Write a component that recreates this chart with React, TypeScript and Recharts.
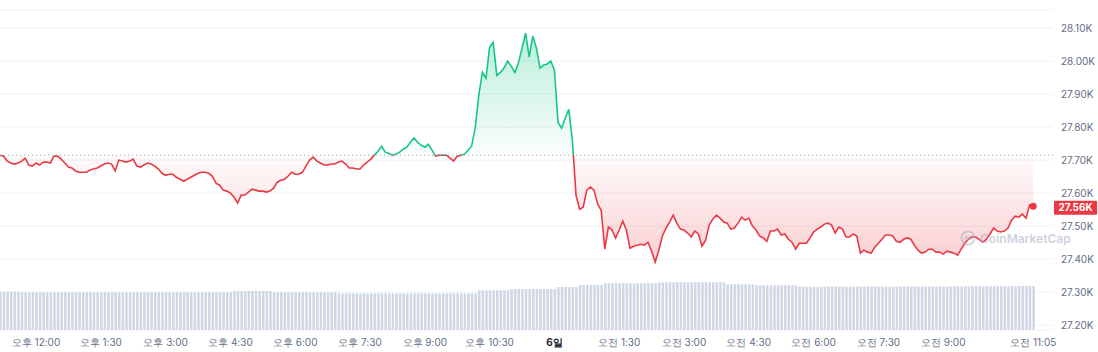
import React from 'react';
import {
  ComposedChart,
  Area,
  Bar,
  XAxis,
  YAxis,
  CartesianGrid,
  ReferenceLine,
  ReferenceDot,
} from 'recharts';

// 5-minute prices, 11:10 -> 11:05 next day (one row per hour)
const prices = [
  27715, 27712, 27697, 27691, 27688, 27691, 27697, 27706, 27685, 27682, 27691, 27685,
  27694, 27694, 27691, 27712, 27712, 27703, 27691, 27679, 27676, 27667, 27663, 27663,
  27663, 27670, 27673, 27676, 27682, 27688, 27691, 27688, 27667, 27700, 27697, 27694,
  27697, 27703, 27682, 27679, 27685, 27691, 27688, 27682, 27673, 27660, 27654, 27657,
  27657, 27648, 27642, 27636, 27642, 27648, 27654, 27660, 27663, 27663, 27660, 27651,
  27630, 27624, 27609, 27606, 27600, 27588, 27570, 27594, 27594, 27603, 27612, 27609,
  27606, 27606, 27603, 27606, 27615, 27633, 27639, 27642, 27651, 27663, 27657, 27657,
  27663, 27682, 27700, 27709, 27697, 27691, 27685, 27685, 27688, 27688, 27694, 27697,
  27688, 27676, 27676, 27673, 27673, 27685, 27694, 27703, 27715, 27727, 27742, 27724,
  27721, 27715, 27718, 27724, 27733, 27739, 27754, 27767, 27754, 27745, 27739, 27748,
  27730, 27712, 27715, 27715, 27715, 27706, 27697, 27712, 27715, 27718, 27730, 27742,
  27797, 27897, 27966, 27948, 28042, 28057, 27957, 27966, 27979, 28000, 27985, 27966,
  27994, 28039, 28085, 28012, 28076, 28039, 27979, 27988, 27991, 28000, 27973, 27815,
  27797, 27827, 27854, 27760, 27594, 27551, 27557, 27609, 27618, 27609, 27567, 27548,
  27430, 27497, 27488, 27464, 27488, 27515, 27488, 27433, 27439, 27442, 27445, 27442,
  27451, 27424, 27391, 27427, 27470, 27494, 27512, 27533, 27509, 27491, 27488, 27479,
  27467, 27485, 27476, 27439, 27457, 27503, 27521, 27533, 27524, 27512, 27509, 27491,
  27494, 27509, 27527, 27518, 27524, 27500, 27488, 27470, 27464, 27454, 27485, 27485,
  27491, 27473, 27476, 27460, 27451, 27430, 27448, 27448, 27448, 27464, 27482, 27491,
  27497, 27506, 27509, 27503, 27479, 27497, 27491, 27467, 27467, 27476, 27470, 27418,
  27427, 27421, 27418, 27436, 27448, 27460, 27473, 27473, 27470, 27454, 27451, 27460,
  27464, 27460, 27442, 27427, 27418, 27421, 27430, 27430, 27421, 27421, 27415, 27424,
  27421, 27418, 27412, 27430, 27448, 27460, 27467, 27467, 27460, 27451, 27460, 27476,
  27494, 27485, 27482, 27485, 27494, 27518, 27530, 27527, 27536, 27524, 27564, 27560,
];

// 24h volume (B), same 5-minute steps
const volumes = [
  11.98, 11.97, 11.97, 11.96, 11.96, 11.95, 11.8, 11.79, 11.79, 11.78, 11.78, 11.79,
  11.79, 11.78, 11.78, 11.77, 11.78, 11.79, 11.78, 11.78, 11.77, 11.77, 11.78, 11.78,
  11.78, 11.79, 11.78, 11.78, 11.77, 11.78, 11.78, 11.79, 11.78, 11.77, 11.78, 11.78,
  11.78, 11.78, 11.77, 11.78, 11.78, 11.79, 11.78, 11.78, 11.78, 11.77, 11.78, 11.78,
  11.78, 11.79, 11.78, 11.78, 11.78, 11.77, 11.78, 11.78, 11.79, 11.78, 11.78, 11.78,
  11.78, 11.78, 11.77, 11.78, 11.78, 12.18, 12.19, 12.19, 12.2, 12.19, 12.19, 12.18,
  12.19, 12.19, 12.18, 12.18, 11.79, 11.78, 11.78, 11.78, 11.77, 11.78, 11.78, 11.78,
  11.78, 11.78, 11.77, 11.78, 11.78, 11.78, 11.78, 11.77, 11.78, 11.78, 11.48, 11.47,
  11.47, 11.47, 11.46, 11.47, 11.47, 11.48, 11.47, 11.47, 11.46, 11.47, 11.47, 11.47,
  11.47, 11.48, 11.47, 11.47, 11.47, 11.46, 11.47, 11.47, 11.47, 11.48, 11.47, 11.47,
  11.47, 11.47, 11.46, 11.47, 11.47, 11.47, 11.48, 11.47, 11.47, 11.46, 11.47, 11.47,
  11.47, 12.38, 12.4, 12.4, 12.41, 12.4, 12.4, 12.41, 12.4, 12.42, 12.79, 12.8,
  12.8, 12.81, 12.8, 12.8, 12.82, 12.81, 12.8, 12.8, 12.81, 12.8, 12.82, 13.44,
  13.44, 13.45, 13.44, 13.45, 13.44, 14.05, 14.06, 14.06, 14.07, 14.06, 14.06, 14.07,
  14.58, 14.59, 14.59, 14.6, 14.59, 14.58, 14.59, 14.6, 14.59, 14.59, 14.6, 14.59,
  14.59, 14.6, 14.59, 14.9, 14.9, 14.91, 14.9, 14.9, 14.92, 14.91, 14.9, 14.9,
  14.9, 14.91, 14.9, 14.9, 14.91, 14.9, 14.89, 14.9, 14.9, 14.89, 14.28, 14.28,
  14.29, 14.28, 14.28, 14.27, 14.28, 14.28, 13.97, 13.97, 13.98, 13.97, 13.96, 13.97,
  13.97, 13.98, 13.97, 13.97, 13.96, 13.97, 13.54, 13.53, 13.53, 13.54, 13.53, 13.53,
  13.54, 13.55, 13.54, 13.53, 13.54, 13.55, 13.56, 13.55, 13.54, 13.55, 13.56, 13.55,
  13.56, 13.57, 13.56, 13.55, 13.56, 13.57, 13.58, 13.57, 13.56, 13.57, 13.58, 13.57,
  13.58, 13.6, 13.59, 13.58, 13.6, 13.61, 13.6, 13.59, 13.6, 13.61, 13.62, 13.61,
  13.62, 13.64, 13.63, 13.65, 13.66, 13.65, 13.66, 13.68, 13.67, 13.68, 13.7, 13.69,
  13.7, 13.72, 13.71, 13.72, 13.73, 13.72, 13.73, 13.75, 13.74, 13.75, 13.76, 13.75,
];

const openPrice = 27715;

const xTickIndex = [10, 28, 46, 64, 82, 100, 118, 136, 154, 172, 190, 208, 226, 244, 262, 287];
const xTickLabels = [
  '오후 12:00', '오후 1:30', '오후 3:00', '오후 4:30', '오후 6:00', '오후 7:30', '오후 9:00',
  '오후 10:30', '6일', '오전 1:30', '오전 3:00', '오전 4:30', '오전 6:00', '오전 7:30',
  '오전 9:00', '오전 11:05',
];
const yTicks = [27200, 27300, 27400, 27500, 27600, 27700, 27800, 27900, 28000, 28100];

const GREEN = '#16c784';
const RED = '#ea3943';
const AXIS_TEXT = '#616e85';

const rows = prices.map((price, i) => ({ i, price, vol: volumes[i] }));
const lastIdx = prices.length - 1;
const lastPrice = prices[lastIdx];

// where the open price sits inside the line's bounding box
const hi = Math.max(...prices);
const lo = Math.min(...prices);
const split = (hi - openPrice) / (hi - lo);

const fmtK = (v: number) => `${(v / 1000).toFixed(2)}K`;

const XTick = ({ x, y, payload }: any) => {
  const label = xTickLabels[xTickIndex.indexOf(payload.value)];
  const isDay = label === '6일';
  return (
    <text
      x={x}
      y={y}
      dy={8}
      textAnchor="middle"
      fontSize={10}
      fontWeight={isDay ? 700 : 400}
      fill={isDay ? '#222531' : AXIS_TEXT}
    >
      {label}
    </text>
  );
};

const PriceTag = ({ viewBox }: any) => {
  if (!viewBox) return null;
  const x = viewBox.x + viewBox.width + 1;
  const y = viewBox.y + 1.5;
  return (
    <g>
      <rect x={x} y={y - 7} width={43} height={14} rx={1} fill={RED} />
      <text x={x + 21.5} y={y} dy={3.6} textAnchor="middle" fontSize={10} fontWeight={700} fill="#fff">
        {fmtK(lastPrice)}
      </text>
    </g>
  );
};

const Watermark = () => (
  <div
    style={{
      position: 'absolute',
      left: 960,
      top: 230,
      display: 'flex',
      alignItems: 'center',
      gap: 4,
      opacity: 0.55,
      pointerEvents: 'none',
      color: '#a6b0c3',
      fontSize: 12,
      fontWeight: 600,
      whiteSpace: 'nowrap',
    }}
  >
    <svg width={16} height={16} viewBox="0 0 18 18" style={{ flexShrink: 0 }}>
      <circle cx={9} cy={9} r={7.5} fill="none" stroke="#a6b0c3" strokeWidth={2} />
      <path d="M4.5 11.5 L7 7 L9 11 L11 7 L13.5 11.5" fill="none" stroke="#a6b0c3" strokeWidth={1.6} />
    </svg>
    <span>CoinMarketCap</span>
  </div>
);

export default function App() {
  return (
    <div style={{ position: 'absolute', left: 0, top: 0, width: 1098, height: 352, fontFamily: 'Inter, sans-serif' }}>
      <ComposedChart width={1098} height={352} data={rows} margin={{ top: 10, right: 0, bottom: 0, left: 0 }}>
        <defs>
          <linearGradient id="lineGrad" x1="0" y1="0" x2="0" y2="1">
            <stop offset={split} stopColor={GREEN} />
            <stop offset={split} stopColor={RED} />
          </linearGradient>
          <linearGradient id="fillGrad" x1="0" y1="0" x2="0" y2="1">
            <stop offset={0} stopColor={GREEN} stopOpacity={0.3} />
            <stop offset={split} stopColor={GREEN} stopOpacity={0.02} />
            <stop offset={split} stopColor={RED} stopOpacity={0.02} />
            <stop offset={1} stopColor={RED} stopOpacity={0.24} />
          </linearGradient>
        </defs>
        <CartesianGrid vertical={false} stroke="#eff2f5" yAxisId="price" />
        <XAxis
          dataKey="i"
          type="number"
          domain={[0, 292.5]}
          ticks={xTickIndex}
          tick={<XTick />}
          axisLine={false}
          tickLine={false}
          height={22}
          interval={0}
        />
        <YAxis
          yAxisId="price"
          orientation="right"
          domain={[27185, 28155]}
          allowDataOverflow
          ticks={yTicks}
          tickFormatter={fmtK}
          tick={{ fontSize: 10, fill: AXIS_TEXT }}
          axisLine={false}
          tickLine={false}
          width={45}
        />
        <YAxis yAxisId="vol" hide domain={[0, 100]} />
        <Bar yAxisId="vol" dataKey="vol" fill="#cfd6e4" barSize={2.5} isAnimationActive={false} />
        <Area
          yAxisId="price"
          type="linear"
          dataKey="price"
          baseValue={openPrice}
          stroke="url(#lineGrad)"
          strokeWidth={1.6}
          fill="url(#fillGrad)"
          fillOpacity={1}
          dot={false}
          activeDot={false}
          isAnimationActive={false}
        />
        <ReferenceLine yAxisId="price" y={openPrice} stroke="#9aa3b0" strokeDasharray="1 3" />
        <ReferenceLine yAxisId="price" y={lastPrice} stroke="none" label={<PriceTag />} />
        <ReferenceDot yAxisId="price" x={lastIdx} y={lastPrice} r={3.5} fill={RED} stroke="none" />
      </ComposedChart>
      <Watermark />
    </div>
  );
}
